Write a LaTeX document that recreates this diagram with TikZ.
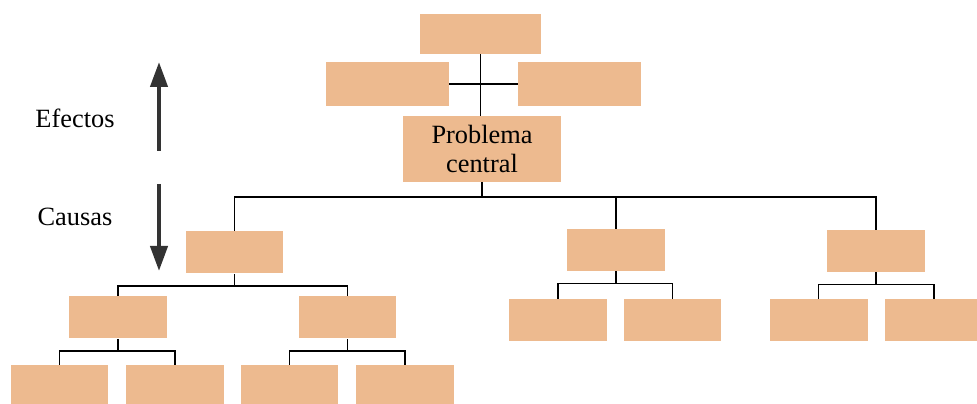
\documentclass[tikz,border=0pt]{standalone}
\usepackage{fontspec}
\setmainfont{Liberation Serif}
\usepackage{tikz}
\usetikzlibrary{arrows.meta,calc,positioning}
\usepackage{xcolor}
\definecolor{peach}{HTML}{EDBA8F}
\definecolor{flecha}{HTML}{333333}

\begin{document}
\begin{tikzpicture}[x=0.02cm,y=-0.02cm,
  caja/.style={fill=peach,inner sep=0pt,minimum width=1.96cm,minimum height=0.84cm},
  linea/.style={black,line width=0.8pt},
  eje/.style={flecha,line width=2.4pt,-{Triangle[length=0.5cm,width=0.34cm]}},
  rotulo/.style={font=\fontsize{15}{16}\selectfont}]
\useasboundingbox (0,0) rectangle (977,404);
\clip (0,0) rectangle (977,404);
% efectos
\node[caja,minimum width=2.42cm,minimum height=0.8cm] (efTop) at (480.5,34) {};
\node[caja,minimum width=2.46cm,minimum height=0.88cm] (efL) at (387.5,84) {};
\node[caja,minimum width=2.46cm,minimum height=0.88cm] (efR) at (579.5,84) {};
\node[caja,minimum width=3.16cm,minimum height=1.32cm,align=center,rotulo] (pc) at (482,149) {Problema\\central};
% causas
\node[caja] (ca) at (234.5,252.5) {};
\node[caja] (cb) at (616,250) {};
\node[caja] (cc) at (876,251) {};
\node[caja] (ca1) at (118,317.5) {};
\node[caja] (ca2) at (347.5,317.5) {};
\node[caja] (cb1) at (558,320) {};
\node[caja] (cb2) at (672.5,320) {};
\node[caja] (cc1) at (818.5,320) {};
\node[caja] (cc2) at (934,320) {};
\node[caja] (ca11) at (59.5,386) {};
\node[caja] (ca12) at (175,386) {};
\node[caja] (ca21) at (289.5,386) {};
\node[caja] (ca22) at (405,386) {};
% etiquetas y flechas
\node[rotulo] (efectos) at (75,118) {Efectos};
\node[rotulo] (causas) at (75,217) {Causas};
\coordinate (upA) at (159,151);
\coordinate (upB) at (159,62);
\coordinate (dnA) at (159,184);
\coordinate (dnB) at (159,271);
\draw[eje] (upA) -- (upB);
\draw[eje] (dnA) -- (dnB);
% conectores
\draw[linea] (efTop.south) -- (efTop.south |- pc.north);
\draw[linea] (efL.east) -- (efR.west);
\coordinate (j0) at (482,197);
\draw[linea] (pc.south) -- (j0);
\foreach \c in {ca,cb,cc} \draw[linea] (j0) -| (\c.north);
\foreach \p/\a/\b in {ca/ca1/ca2,cb/cb1/cb2,cc/cc1/cc2,ca1/ca11/ca12,ca2/ca21/ca22}{
  \draw[linea] (\p.south) -- ++(0,12) -| (\a.north);
  \draw[linea] (\p.south) ++(0,12) -| (\b.north);
}
\end{tikzpicture}
\end{document}
